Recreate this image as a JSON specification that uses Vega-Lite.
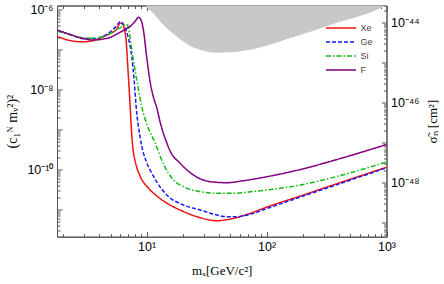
{
  "$schema": "https://vega.github.io/schema/vega-lite/v6.json",
  "width": 329.5,
  "height": 231.2,
  "autosize": {"type": "none"},
  "padding": {"left": 57, "top": 5.5, "right": 57.5, "bottom": 47.3},
  "config": {
    "view": {"stroke": "#555", "strokeWidth": 1},
    "axis": {
      "grid": false,
      "domainColor": "#555",
      "tickColor": "#555",
      "labelColor": "#000",
      "labelFont": "Liberation Sans",
      "labelFontSize": 12.5,
      "titleFont": "Liberation Serif",
      "titleFontSize": 13,
      "titleFontWeight": "normal",
      "titleColor": "#000",
      "labelOverlap": false,
      "labelFlush": false
    }
  },
  "datasets": {
    "excl": [
      {"m": 9.5, "sigma": 6e-44, "top": 1e-40},
      {"m": 9.72, "sigma": 2.9e-44, "top": 1e-40},
      {"m": 11.4, "sigma": 1.74e-44, "top": 1e-40},
      {"m": 13.8, "sigma": 8.9e-45, "top": 1e-40},
      {"m": 17.9, "sigma": 4.52e-45, "top": 1e-40},
      {"m": 23.1, "sigma": 2.65e-45, "top": 1e-40},
      {"m": 29.8, "sigma": 2.02e-45, "top": 1e-40},
      {"m": 38.5, "sigma": 1.8e-45, "top": 1e-40},
      {"m": 49.8, "sigma": 1.84e-45, "top": 1e-40},
      {"m": 83.2, "sigma": 2.32e-45, "top": 1e-40},
      {"m": 158, "sigma": 4.17e-45, "top": 1e-40},
      {"m": 340, "sigma": 8.9e-45, "top": 1e-40},
      {"m": 948, "sigma": 2.54e-44, "top": 1e-40},
      {"m": 1000, "sigma": 2.75e-44, "top": 1e-40}
    ],
    "curves": [
      {"target": "Xe", "m": 1.8, "c": 2.089e-7},
      {"target": "Xe", "m": 2.3, "c": 1.66e-7},
      {"target": "Xe", "m": 2.95, "c": 1.538e-7},
      {"target": "Xe", "m": 3.71, "c": 1.706e-7},
      {"target": "Xe", "m": 4.36, "c": 2.065e-7},
      {"target": "Xe", "m": 4.96, "c": 2.483e-7},
      {"target": "Xe", "m": 5.64, "c": 3.214e-7},
      {"target": "Xe", "m": 6.01, "c": 4.539e-7},
      {"target": "Xe", "m": 6.24, "c": 4.416e-7},
      {"target": "Xe", "m": 6.49, "c": 3.404e-7},
      {"target": "Xe", "m": 6.74, "c": 1.706e-7},
      {"target": "Xe", "m": 7.01, "c": 2.704e-8},
      {"target": "Xe", "m": 7.28, "c": 4.046e-9},
      {"target": "Xe", "m": 7.52, "c": 7.194e-10},
      {"target": "Xe", "m": 7.72, "c": 3.034e-10},
      {"target": "Xe", "m": 8.02, "c": 1.611e-10},
      {"target": "Xe", "m": 8.82, "c": 6.79e-11},
      {"target": "Xe", "m": 10.35, "c": 3.404e-11},
      {"target": "Xe", "m": 12.17, "c": 2.148e-11},
      {"target": "Xe", "m": 15.71, "c": 1.279e-11},
      {"target": "Xe", "m": 20.29, "c": 8.81e-12},
      {"target": "Xe", "m": 26.26, "c": 6.53e-12},
      {"target": "Xe", "m": 38.6, "c": 5.19e-12},
      {"target": "Xe", "m": 53.1, "c": 5.96e-12},
      {"target": "Xe", "m": 73.2, "c": 7.94e-12},
      {"target": "Xe", "m": 100.9, "c": 1.14e-11},
      {"target": "Xe", "m": 191.3, "c": 2.148e-11},
      {"target": "Xe", "m": 413, "c": 4.677e-11},
      {"target": "Xe", "m": 1000, "c": 1.122e-10},

      {"target": "Ge", "m": 1.8, "c": 2.951e-7},
      {"target": "Ge", "m": 2.3, "c": 2.344e-7},
      {"target": "Ge", "m": 2.95, "c": 1.862e-7},
      {"target": "Ge", "m": 3.71, "c": 1.862e-7},
      {"target": "Ge", "m": 4.36, "c": 2.148e-7},
      {"target": "Ge", "m": 4.96, "c": 2.704e-7},
      {"target": "Ge", "m": 5.64, "c": 3.936e-7},
      {"target": "Ge", "m": 6.01, "c": 4.898e-7},
      {"target": "Ge", "m": 6.3, "c": 4.539e-7},
      {"target": "Ge", "m": 6.61, "c": 3.404e-7},
      {"target": "Ge", "m": 7.05, "c": 1.914e-7},
      {"target": "Ge", "m": 7.52, "c": 6.53e-8},
      {"target": "Ge", "m": 7.91, "c": 1.413e-8},
      {"target": "Ge", "m": 8.17, "c": 3.82e-9},
      {"target": "Ge", "m": 8.82, "c": 6.41e-10},
      {"target": "Ge", "m": 10.04, "c": 1.436e-10},
      {"target": "Ge", "m": 10.7, "c": 9.59e-11},
      {"target": "Ge", "m": 12.17, "c": 4.81e-11},
      {"target": "Ge", "m": 14.75, "c": 2.275e-11},
      {"target": "Ge", "m": 20.29, "c": 1.279e-11},
      {"target": "Ge", "m": 27.98, "c": 9.59e-12},
      {"target": "Ge", "m": 38.6, "c": 7.19e-12},
      {"target": "Ge", "m": 46.7, "c": 6.53e-12},
      {"target": "Ge", "m": 56.6, "c": 6.53e-12},
      {"target": "Ge", "m": 73.2, "c": 7.5e-12},
      {"target": "Ge", "m": 100.9, "c": 1.047e-11},
      {"target": "Ge", "m": 191.3, "c": 2.028e-11},
      {"target": "Ge", "m": 413, "c": 4.416e-11},
      {"target": "Ge", "m": 1000, "c": 1.089e-10},

      {"target": "Si", "m": 1.8, "c": 2.85e-7},
      {"target": "Si", "m": 2.3, "c": 2.3e-7},
      {"target": "Si", "m": 2.95, "c": 1.936e-7},
      {"target": "Si", "m": 3.71, "c": 1.884e-7},
      {"target": "Si", "m": 4.36, "c": 2.065e-7},
      {"target": "Si", "m": 4.96, "c": 2.483e-7},
      {"target": "Si", "m": 5.64, "c": 3.126e-7},
      {"target": "Si", "m": 6.13, "c": 3.606e-7},
      {"target": "Si", "m": 6.49, "c": 4.046e-7},
      {"target": "Si", "m": 6.81, "c": 4.169e-7},
      {"target": "Si", "m": 7.07, "c": 3.404e-7},
      {"target": "Si", "m": 7.52, "c": 9.59e-8},
      {"target": "Si", "m": 8.28, "c": 1.706e-8},
      {"target": "Si", "m": 9.08, "c": 3.82e-9},
      {"target": "Si", "m": 10.1, "c": 1.279e-9},
      {"target": "Si", "m": 11.78, "c": 4.539e-10},
      {"target": "Si", "m": 13.81, "c": 1.355e-10},
      {"target": "Si", "m": 16.74, "c": 5.4e-11},
      {"target": "Si", "m": 20.29, "c": 3.673e-11},
      {"target": "Si", "m": 27.98, "c": 2.754e-11},
      {"target": "Si", "m": 38.6, "c": 2.512e-11},
      {"target": "Si", "m": 53.1, "c": 2.512e-11},
      {"target": "Si", "m": 73.2, "c": 2.754e-11},
      {"target": "Si", "m": 100.9, "c": 3.034e-11},
      {"target": "Si", "m": 191.3, "c": 4.046e-11},
      {"target": "Si", "m": 413, "c": 7.0e-11},
      {"target": "Si", "m": 1000, "c": 1.521e-10},

      {"target": "F", "m": 1.8, "c": 3.034e-7},
      {"target": "F", "m": 2.3, "c": 2.344e-7},
      {"target": "F", "m": 2.95, "c": 1.862e-7},
      {"target": "F", "m": 3.57, "c": 1.706e-7},
      {"target": "F", "m": 4.36, "c": 1.807e-7},
      {"target": "F", "m": 4.96, "c": 1.972e-7},
      {"target": "F", "m": 5.64, "c": 2.41e-7},
      {"target": "F", "m": 6.61, "c": 3.126e-7},
      {"target": "F", "m": 7.52, "c": 4.046e-7},
      {"target": "F", "m": 8.17, "c": 5.4e-7},
      {"target": "F", "m": 8.54, "c": 6.31e-7},
      {"target": "F", "m": 8.91, "c": 5.71e-7},
      {"target": "F", "m": 9.4, "c": 3.034e-7},
      {"target": "F", "m": 10.04, "c": 6.05e-8},
      {"target": "F", "m": 10.7, "c": 1.521e-8},
      {"target": "F", "m": 11.33, "c": 6.79e-9},
      {"target": "F", "m": 12.17, "c": 3.404e-9},
      {"target": "F", "m": 12.96, "c": 1.521e-9},
      {"target": "F", "m": 14.75, "c": 4.539e-10},
      {"target": "F", "m": 15.71, "c": 2.864e-10},
      {"target": "F", "m": 19.04, "c": 1.413e-10},
      {"target": "F", "m": 24.6, "c": 7.19e-11},
      {"target": "F", "m": 33.9, "c": 4.898e-11},
      {"target": "F", "m": 46.7, "c": 4.624e-11},
      {"target": "F", "m": 64.3, "c": 5.19e-11},
      {"target": "F", "m": 100.9, "c": 6.53e-11},
      {"target": "F", "m": 191.3, "c": 9.89e-11},
      {"target": "F", "m": 413, "c": 1.862e-10},
      {"target": "F", "m": 1000, "c": 4.169e-10}
    ]
  },
  "layer": [
    {
      "data": {"name": "excl"},
      "mark": {"type": "area", "color": "#c8c8c8", "clip": true, "interpolate": "monotone"},
      "encoding": {
        "x": {
          "field": "m", "type": "quantitative",
          "scale": {"type": "log", "domain": [1.79, 1000], "nice": false},
          "axis": {
            "orient": "top", "title": null, "labels": false, "domain": true,
            "values": [2,3,4,5,6,7,8,9,10,20,30,40,50,60,70,80,90,100,200,300,400,500,600,700,800,900,1000],
            "tickSize": {"condition": {"test": "datum.value == 10 || datum.value == 100 || datum.value == 1000", "value": -5}, "value": -3}
          }
        },
        "y": {
          "field": "sigma", "type": "quantitative",
          "scale": {"type": "log", "domain": [4.52e-50, 2.72e-44], "nice": false},
          "axis": {
            "orient": "right",
            "title": "σ̃ₙ [cm²]",
            "titleAngle": 270,
            "titleBaseline": "middle",
            "titleX": 46,
            "values": [5e-50,6e-50,7e-50,8e-50,9e-50,1e-49,2e-49,3e-49,4e-49,5e-49,6e-49,7e-49,8e-49,9e-49,1e-48,2e-48,3e-48,4e-48,5e-48,6e-48,7e-48,8e-48,9e-48,1e-47,2e-47,3e-47,4e-47,5e-47,6e-47,7e-47,8e-47,9e-47,1e-46,2e-46,3e-46,4e-46,5e-46,6e-46,7e-46,8e-46,9e-46,1e-45,2e-45,3e-45,4e-45,5e-45,6e-45,7e-45,8e-45,9e-45,1e-44,2e-44],
            "labelExpr": "datum.value == 1e-44 ? '10⁻⁴⁴' : datum.value == 1e-46 ? '10⁻⁴⁶' : datum.value == 1e-48 ? '10⁻⁴⁸' : ''",
            "tickSize": {"condition": {"test": "abs(log(datum.value)/LN10 - round(log(datum.value)/LN10)) < 0.001", "value": -5}, "value": -3},
            "labelPadding": 9
          }
        },
        "y2": {"field": "top"}
      }
    },
    {
      "data": {"name": "curves"},
      "mark": {"type": "line", "strokeWidth": 1.5, "interpolate": "monotone", "clip": true},
      "encoding": {
        "x": {
          "field": "m", "type": "quantitative",
          "scale": {"type": "log", "domain": [1.79, 1000], "nice": false},
          "axis": {
            "orient": "bottom",
            "title": "mₓ[GeV/c²]",
            "titleY": 33.5,
            "titleBaseline": "middle",
            "values": [2,3,4,5,6,7,8,9,10,20,30,40,50,60,70,80,90,100,200,300,400,500,600,700,800,900,1000],
            "labelExpr": "datum.value == 10 ? '10¹' : datum.value == 100 ? '10²' : datum.value == 1000 ? '10³' : ''",
            "tickSize": {"condition": {"test": "datum.value == 10 || datum.value == 100 || datum.value == 1000", "value": -5}, "value": -3},
            "labelPadding": 9
          }
        },
        "y": {
          "field": "c", "type": "quantitative",
          "scale": {"type": "log", "domain": [2.065e-12, 1.245e-6], "nice": false},
          "axis": {
            "orient": "left",
            "title": "(c₁ᴺ mᵥ²)²",
            "titleFontSize": 14,
            "titleBaseline": "middle",
            "titleX": -45,
            "values": [3e-12,4e-12,5e-12,6e-12,7e-12,8e-12,9e-12,1e-11,2e-11,3e-11,4e-11,5e-11,6e-11,7e-11,8e-11,9e-11,1e-10,2e-10,3e-10,4e-10,5e-10,6e-10,7e-10,8e-10,9e-10,1e-9,2e-9,3e-9,4e-9,5e-9,6e-9,7e-9,8e-9,9e-9,1e-8,2e-8,3e-8,4e-8,5e-8,6e-8,7e-8,8e-8,9e-8,1e-7,2e-7,3e-7,4e-7,5e-7,6e-7,7e-7,8e-7,9e-7,1e-6],
            "labelExpr": "datum.value == 1e-6 ? '10⁻⁶' : datum.value == 1e-8 ? '10⁻⁸' : datum.value == 1e-10 ? '10⁻¹⁰' : ''",
            "tickSize": {"condition": {"test": "abs(log(datum.value)/LN10 - round(log(datum.value)/LN10)) < 0.001", "value": -5}, "value": -3},
            "labelPadding": 9
          }
        },
        "color": {
          "field": "target", "type": "nominal",
          "scale": {"domain": ["Xe", "Ge", "Si", "F"], "range": ["#ee1111", "#1a1aff", "#11bb11", "#800080"]},
          "legend": {"title": null, "orient": "none", "legendX": 275.5, "legendY": 14, "padding": 0, "symbolType": "M-2,0H2", "symbolSize": 225, "symbolStrokeWidth": 1.5, "symbolFillColor": "transparent", "labelFont": "Liberation Sans", "labelFontSize": 9, "labelColor": "#444", "rowPadding": 0, "labelOffset": 11}
        },
        "strokeDash": {
          "field": "target", "type": "nominal",
          "scale": {"domain": ["Xe", "Ge", "Si", "F"], "range": [[1, 0], [4, 2], [5, 2, 1.5, 2], [1, 0]]},
          "legend": {"title": null, "orient": "none", "legendX": 275.5, "legendY": 14, "padding": 0, "symbolType": "M-2,0H2", "symbolSize": 225, "symbolStrokeWidth": 1.5, "symbolFillColor": "transparent", "labelFont": "Liberation Sans", "labelFontSize": 9, "labelColor": "#444", "rowPadding": 0, "labelOffset": 11}
        }
      }
    }
  ],
  "resolve": {"scale": {"y": "independent"}, "axis": {"x": "independent"}}
}
